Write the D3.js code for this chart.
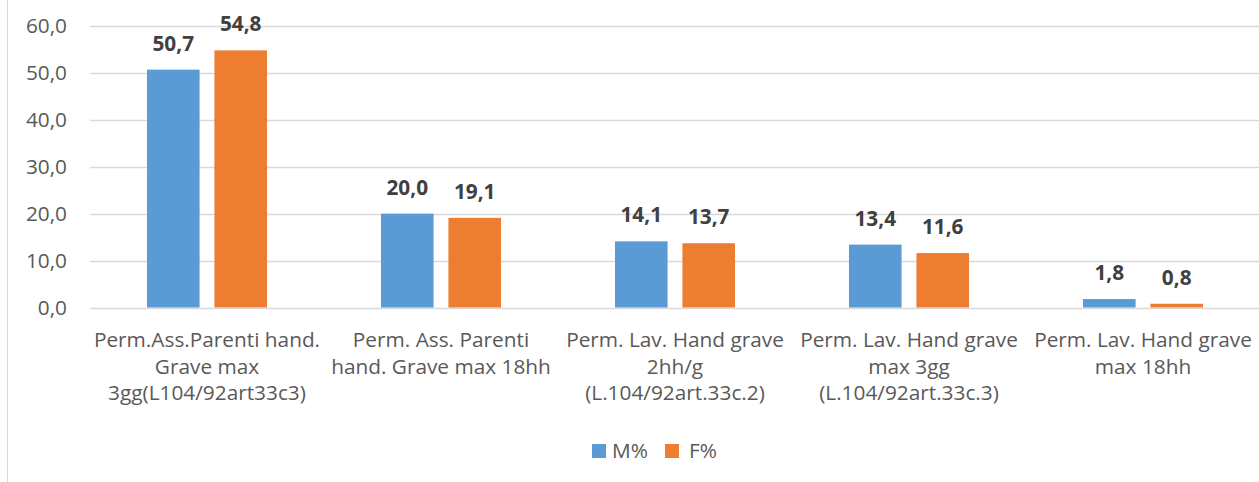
<!DOCTYPE html>
<html>
<head>
<meta charset="utf-8">
<script src="https://cdn.jsdelivr.net/npm/d3@7"></script>
<style>
  body { margin: 0; background: #fff; }
  svg { display: block; font-family: "Open Sans", sans-serif; }
</style>
</head>
<body>
<svg id="chart" width="1259" height="482"></svg>
<script>
// data
var categories = [
  ["Perm.Ass.Parenti hand.", "Grave max", "3gg(L104/92art33c3)"],
  ["Perm. Ass. Parenti", "hand. Grave max 18hh"],
  ["Perm. Lav. Hand grave", "2hh/g", "(L.104/92art.33c.2)"],
  ["Perm. Lav. Hand grave", "max 3gg", "(L.104/92art.33c.3)"],
  ["Perm. Lav. Hand grave", "max 18hh"]
];
var seriesNames = ["M%", "F%"];
var mValues = [50.7, 20.0, 14.1, 13.4, 1.8];
var fValues = [54.8, 19.1, 13.7, 11.6, 0.8];
var yTicks = [0, 10, 20, 30, 40, 50, 60];

var colors = { "M%": "#5b9bd5", "F%": "#ed7d31" };
var fontSize = 20.8;
var fmt = function(v) { return v.toFixed(1).replace(".", ","); };

var svg = d3.select("#chart");

// chart area border (only left edge is visible)
svg.append("line")
  .attr("x1", 7.5).attr("x2", 7.5)
  .attr("y1", 0).attr("y2", 482)
  .attr("stroke", "#d9d9d9");

var x0 = d3.scaleBand()
  .domain(d3.range(categories.length))
  .range([90, 1260])
  .paddingInner(0.487)
  .paddingOuter(0.2435);

var x1 = d3.scaleBand()
  .domain(seriesNames)
  .range([0, x0.bandwidth()])
  .paddingInner(0.22);

var y = d3.scaleLinear()
  .domain([0, 60])
  .range([307.5, 26]);

// gridlines + tick labels
var yAxis = d3.axisLeft(y)
  .tickValues(yTicks)
  .tickSize(0)
  .tickPadding(23)
  .tickFormat(fmt);

var gy = svg.append("g")
  .attr("transform", "translate(90,0)")
  .call(yAxis);
gy.select(".domain").remove();
gy.selectAll("text")
  .attr("fill", "#595959")
  .style("font-size", fontSize + "px")
  .style("font-family", "'Open Sans', sans-serif");

svg.append("g")
  .selectAll("line")
  .data(yTicks)
  .join("line")
  .attr("x1", 90).attr("x2", 1259)
  .attr("y1", function(d) { return Math.round(y(d)) + 0.5; })
  .attr("y2", function(d) { return Math.round(y(d)) + 0.5; })
  .attr("stroke", "#d9d9d9")
  .attr("stroke-width", 1.3);

// bars
var rows = categories.map(function(c, i) {
  return [
    { key: "M%", value: mValues[i], cat: i },
    { key: "F%", value: fValues[i], cat: i }
  ];
});

var groups = svg.append("g")
  .selectAll("g")
  .data(rows)
  .join("g")
  .attr("transform", function(d, i) { return "translate(" + x0(i) + ",0)"; });

groups.selectAll("rect")
  .data(function(d) { return d; })
  .join("rect")
  .attr("x", function(d) { return x1(d.key); })
  .attr("y", function(d) { return y(d.value); })
  .attr("width", x1.bandwidth())
  .attr("height", function(d) { return y(0) - y(d.value); })
  .attr("fill", function(d) { return colors[d.key]; });

groups.selectAll("text.val")
  .data(function(d) { return d; })
  .join("text")
  .attr("class", "val")
  .attr("x", function(d) { return x1(d.key) + x1.bandwidth() / 2; })
  .attr("y", function(d) { return y(d.value) - 19; })
  .attr("text-anchor", "middle")
  .attr("fill", "#404040")
  .attr("font-weight", "bold")
  .style("font-size", fontSize + "px")
  .text(function(d) { return fmt(d.value); });

// category labels
var catLabels = svg.append("g")
  .selectAll("text")
  .data(categories)
  .join("text")
  .attr("x", function(d, i) { return x0(i) + x0.bandwidth() / 2; })
  .attr("y", 347)
  .attr("text-anchor", "middle")
  .attr("fill", "#595959")
  .style("font-size", fontSize + "px");

catLabels.selectAll("tspan")
  .data(function(d) { return d; })
  .join("tspan")
  .attr("x", function() { return this.parentNode.getAttribute("x"); })
  .attr("dy", function(d, i) { return i === 0 ? 0 : 26.7; })
  .text(function(d) { return d; });

// legend
var legendX = [592, 665];
var legend = svg.append("g")
  .selectAll("g")
  .data(seriesNames)
  .join("g")
  .attr("transform", function(d, i) { return "translate(" + legendX[i] + ",444)"; });

legend.append("rect")
  .attr("width", 14)
  .attr("height", 14)
  .attr("fill", function(d) { return colors[d]; });

legend.append("text")
  .attr("x", function(d, i) { return i === 0 ? 20 : 24; })
  .attr("y", 14)
  .attr("fill", "#595959")
  .style("font-size", fontSize + "px")
  .text(function(d) { return d; });
</script>
</body>
</html>
